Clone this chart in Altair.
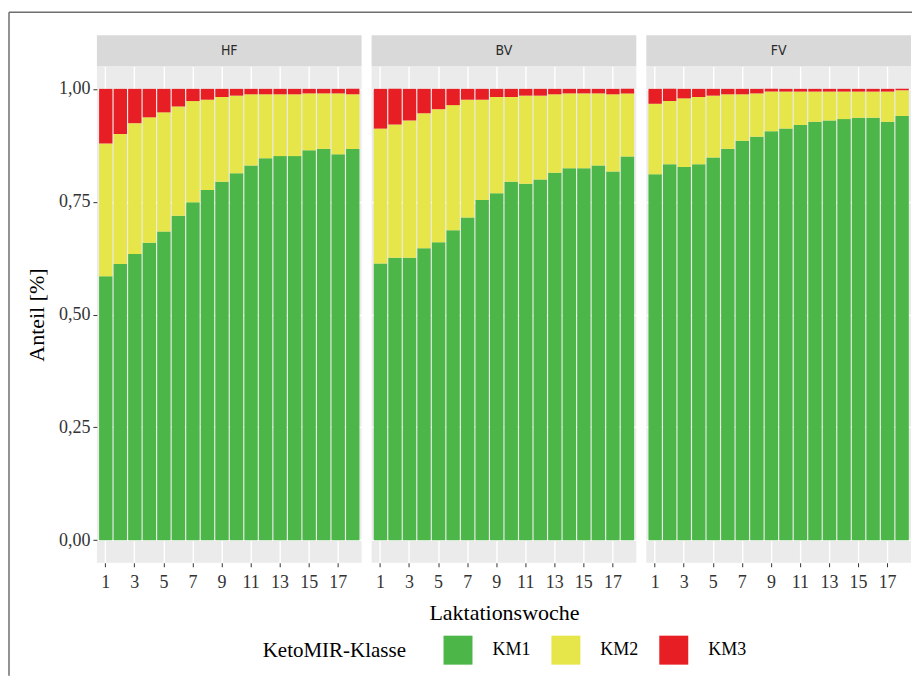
import altair as alt
import pandas as pd

weeks = list(range(1, 19))
breeds = ["HF", "BV", "FV"]
classes = ["KM1", "KM2", "KM3"]
class_colors = ["#4CB748", "#E6E54A", "#E81E25"]
tick_weeks = [1, 3, 5, 7, 9, 11, 13, 15, 17]
y_ticks = [0, 0.25, 0.5, 0.75, 1.0]

hf_km1 = [0.585, 0.612, 0.634, 0.659, 0.684, 0.719, 0.749, 0.776, 0.794, 0.813, 0.830, 0.846, 0.851, 0.851, 0.864, 0.867, 0.855, 0.867]
hf_km2 = [0.294, 0.288, 0.290, 0.278, 0.264, 0.242, 0.224, 0.200, 0.188, 0.172, 0.158, 0.142, 0.137, 0.137, 0.126, 0.123, 0.135, 0.121]
hf_km3 = [0.121, 0.100, 0.076, 0.063, 0.052, 0.039, 0.027, 0.024, 0.018, 0.015, 0.012, 0.012, 0.012, 0.012, 0.010, 0.010, 0.010, 0.012]

bv_km1 = [0.613, 0.626, 0.626, 0.647, 0.660, 0.687, 0.715, 0.754, 0.769, 0.794, 0.790, 0.799, 0.814, 0.824, 0.824, 0.830, 0.817, 0.850]
bv_km2 = [0.299, 0.295, 0.304, 0.299, 0.295, 0.277, 0.261, 0.222, 0.213, 0.188, 0.195, 0.186, 0.174, 0.166, 0.166, 0.160, 0.171, 0.140]
bv_km3 = [0.088, 0.079, 0.070, 0.054, 0.045, 0.036, 0.024, 0.024, 0.018, 0.018, 0.015, 0.015, 0.012, 0.010, 0.010, 0.010, 0.012, 0.010]

fv_km1 = [0.811, 0.833, 0.827, 0.833, 0.848, 0.867, 0.885, 0.894, 0.906, 0.912, 0.920, 0.927, 0.930, 0.933, 0.936, 0.936, 0.927, 0.940]
fv_km2 = [0.156, 0.140, 0.152, 0.149, 0.137, 0.121, 0.103, 0.096, 0.088, 0.082, 0.074, 0.067, 0.064, 0.061, 0.058, 0.058, 0.067, 0.057]
fv_km3 = [0.033, 0.027, 0.021, 0.018, 0.015, 0.012, 0.012, 0.010, 0.006, 0.006, 0.006, 0.006, 0.006, 0.006, 0.006, 0.006, 0.006, 0.003]

series = {
    "HF": [hf_km1, hf_km2, hf_km3],
    "BV": [bv_km1, bv_km2, bv_km3],
    "FV": [fv_km1, fv_km2, fv_km3],
}

rows = []
for b in breeds:
    for ci, c in enumerate(classes):
        for w, v in zip(weeks, series[b][ci]):
            rows.append({"Rasse": b, "Woche": w, "Klasse": c, "ord": ci, "Anteil": v})
df = pd.DataFrame(rows)

W = 265
H = 497
SERIF = "Liberation Serif"
STRIP_FONT = "'Liberation Sans Narrow', 'DejaVu Sans Condensed', 'Liberation Sans'"


def panel(breed, first, middle):
    d = df[df["Rasse"] == breed]
    if first:
        yaxis = alt.Axis(values=y_ticks, title="Anteil [%]",
                         labelExpr="replace(format(datum.value, '.2f'), '.', ',')",
                         grid=True)
    else:
        yaxis = alt.Axis(values=y_ticks, title=None, labels=False, ticks=False, grid=True)
    xaxis = alt.Axis(values=tick_weeks, title="Laktationswoche" if middle else None,
                     labelAngle=0, grid=True, bandPosition=0.5)
    bars = alt.Chart(d).mark_bar().encode(
        x=alt.X("Woche:O", scale=alt.Scale(paddingInner=0.08, paddingOuter=0.15), axis=xaxis),
        y=alt.Y("Anteil:Q", stack="zero",
                scale=alt.Scale(domain=[-0.05, 1.05], nice=False, zero=False), axis=yaxis),
        color=alt.Color("Klasse:N", scale=alt.Scale(domain=classes, range=class_colors),
                        legend=alt.Legend(title="KetoMIR-Klasse")),
        order=alt.Order("ord:Q", sort="ascending"),
    )
    sdf = pd.DataFrame({"b": [breed]})
    strip = alt.Chart(sdf).mark_rect(color="#D9D9D9").encode(
        x=alt.value(0), x2=alt.value(W), y=alt.value(-31), y2=alt.value(0))
    stext = alt.Chart(sdf).mark_text(font=STRIP_FONT, fontSize=14,
                                     color="#2A2A2A", baseline="middle", align="center").encode(
        text="b:N", x=alt.value(W / 2), y=alt.value(-15.5))
    layers = [strip, stext, bars]
    if first:
        fdf = pd.DataFrame({"f": [0]})
        vline = alt.Chart(fdf).mark_rule(color="#6E6E6E", strokeWidth=1.5).encode(
            x=alt.value(-88), y=alt.value(-54), y2=alt.value(610))
        hline = alt.Chart(fdf).mark_rule(color="#6E6E6E", strokeWidth=1.5).encode(
            x=alt.value(-88), x2=alt.value(816), y=alt.value(-54))
        layers = [vline, hline] + layers
    return alt.layer(*layers).properties(width=W, height=H)


chart = alt.hconcat(
    panel("HF", True, False),
    panel("BV", False, True),
    panel("FV", False, False),
    spacing=10,
    bounds="flush",
).properties(
    padding={"left": 0, "top": 3, "right": 0, "bottom": 0},
).configure_view(
    fill="#EBEBEB", stroke=None,
).configure_axis(
    labelFont=SERIF, labelFontSize=18, labelColor="#333333",
    titleFont=SERIF, titleFontSize=22, titleFontWeight="normal", titleColor="#000000",
    domain=False, tickColor="#333333", tickSize=4, tickWidth=1,
    gridColor="#FFFFFF", gridWidth=1.4, labelPadding=3,
).configure_axisY(
    titlePadding=10,
).configure_axisX(
    titlePadding=11, labelPadding=7,
).configure_legend(
    orient="none", legendX=166, legendY=570, direction="horizontal",
    titleOrient="left", symbolType="square", symbolSize=841, symbolStrokeWidth=0,
    labelFont=SERIF, labelFontSize=18, labelColor="#000000",
    titleFont=SERIF, titleFontSize=21, titleFontWeight="normal", titleColor="#000000",
    labelOffset=20, columnPadding=20, titlePadding=37, padding=0,
    symbolOpacity=1,
)

chart.save("out.html", embed_options={"renderer": "svg", "actions": False})
